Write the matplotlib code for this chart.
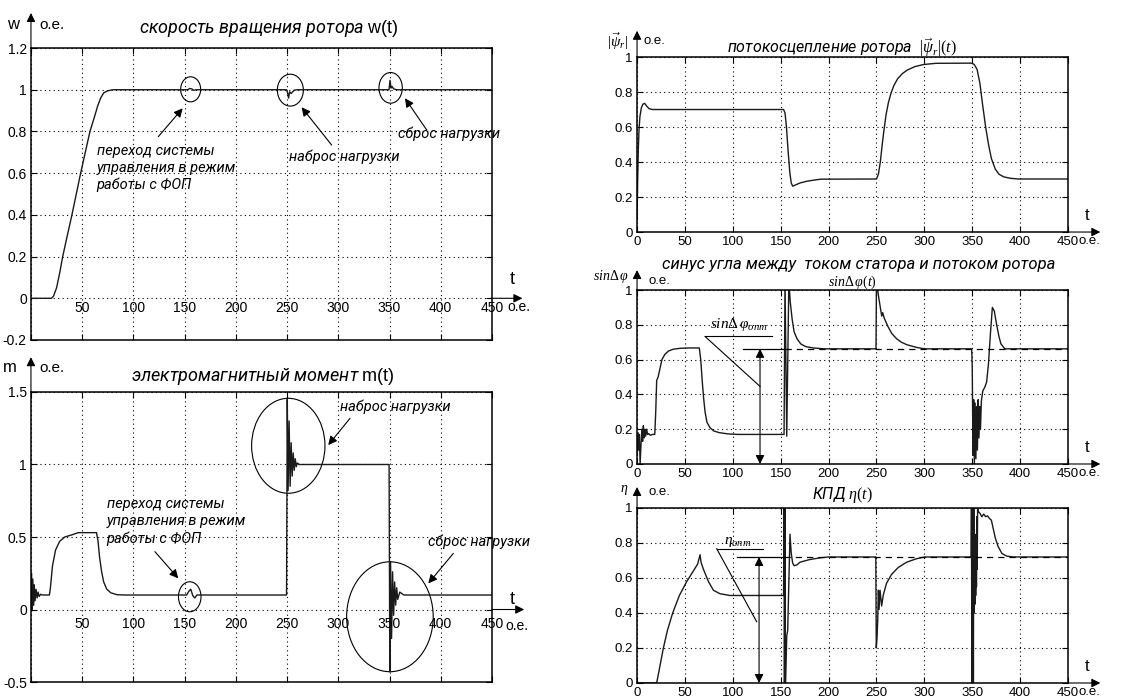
import matplotlib
matplotlib.use('Agg')
import matplotlib.pyplot as plt
from matplotlib.patches import Ellipse

plt.rcParams['font.family'] = ['Liberation Sans', 'DejaVu Sans']
plt.rcParams['mathtext.fontset'] = 'custom'
plt.rcParams['mathtext.rm'] = 'Liberation Serif'
plt.rcParams['mathtext.it'] = 'Liberation Serif:italic'
plt.rcParams['mathtext.bf'] = 'Liberation Serif:bold'
plt.rcParams['mathtext.sf'] = 'Liberation Sans'

IT_FONT = ['Roboto', 'DejaVu Sans']

##---- данные (о.е.)
x_ticks = [0, 50, 100, 150, 200, 250, 300, 350, 400, 450]
x_labels = ['0', '50', '100', '150', '200', '250', '300', '350', '400', '450']

# скорость вращения ротора w(t)
t_w = [0, 20, 22, 25, 28, 31, 35, 40, 48.5, 57.6, 62, 65, 68, 71, 75, 80, 153, 155, 157, 159, 161,
       249.5, 250.5, 251.5, 252.5, 254, 257, 260, 349.5, 350.5, 351.5, 352.5, 354, 357, 450]
w = [0, 0, 0.01, 0.05, 0.12, 0.2, 0.29, 0.4, 0.6, 0.8, 0.87, 0.92, 0.96, 0.985, 0.995, 1.0, 1.0, 1.006, 1.004, 0.997, 1.0,
     1.0, 0.985, 0.96, 0.99, 0.982, 0.998, 1.0, 1.0, 1.045, 1.008, 1.016, 1.004, 1.0, 1.0]
w_yticks = [-0.2, 0, 0.2, 0.4, 0.6, 0.8, 1.0, 1.2]
w_ylabels = ['-0.2', '0', '0.2', '0.4', '0.6', '0.8', '1', '1.2']

# электромагнитный момент m(t)
t_m = [0, 0.5, 1.0, 1.8, 2.5, 3.2, 4.0, 5.0, 6.0, 7.0, 8.0, 9.5, 11, 18, 19, 21, 24, 28, 33, 40,
       46, 64, 65.5, 67, 69, 71, 74, 78, 84, 92, 150, 152, 154, 156, 158, 160, 162,
       249.5, 250.2, 251, 252, 253, 254, 255, 256, 257, 258, 259, 260, 262, 266,
       349.6, 350.3, 351, 352, 353, 354, 355, 356, 357, 358, 360, 364, 450]
m = [0, 0.25, 0.0, 0.21, 0.03, 0.17, 0.06, 0.14, 0.08, 0.12, 0.09, 0.105, 0.1, 0.1, 0.15, 0.3, 0.41, 0.47, 0.5, 0.515,
     0.53, 0.53, 0.47, 0.36, 0.26, 0.19, 0.14, 0.115, 0.102, 0.1, 0.1, 0.1, 0.125, 0.14, 0.095, 0.08, 0.1,
     0.1, 1.45, 0.82, 1.3, 0.85, 1.15, 0.92, 1.08, 0.96, 1.04, 0.985, 1.01, 1.0, 1.0,
     1.0, -0.43, 0.33, -0.2, 0.26, -0.04, 0.19, 0.03, 0.15, 0.07, 0.12, 0.1, 0.1]
m_yticks = [-0.5, 0, 0.5, 1.0, 1.5]
m_ylabels = ['-0.5', '0', '0.5', '1', '1.5']

# потокосцепление ротора |psi_r|(t)
t_psi = [0, 0.5, 1.2, 2, 3, 4.5, 6, 8, 10, 12.5, 16, 153, 154.5, 156, 157.5, 159.5, 161, 162.5, 165, 170,
         177, 185, 192, 250, 252, 254, 256, 258, 260, 262.5, 265, 268, 272, 277, 282, 290, 299, 312, 349, 352,
         355, 358, 361, 364, 367, 370, 374, 378, 383, 390, 398, 450]
psi = [0.07, 0.25, 0.45, 0.58, 0.66, 0.71, 0.73, 0.735, 0.72, 0.705, 0.7, 0.7, 0.68, 0.6, 0.48, 0.34, 0.28, 0.262, 0.268, 0.28,
       0.29, 0.297, 0.302, 0.303, 0.33, 0.4, 0.5, 0.59, 0.67, 0.74, 0.79, 0.835, 0.875, 0.905, 0.925, 0.945, 0.957, 0.964, 0.965, 0.958,
       0.93, 0.85, 0.72, 0.6, 0.5, 0.42, 0.36, 0.33, 0.315, 0.307, 0.303, 0.303]

# синус угла между током статора и потоком ротора
t_s = [0, 0.8, 1.6, 2.4, 3.2, 4.2, 5, 5.8, 6.6, 7.4, 8.2, 9, 10, 11, 12, 14, 16, 18.5, 19.5, 20.5,
       22, 24, 26, 29, 33, 38, 45, 55, 65, 66.5, 68, 69.5, 71, 73, 76, 80, 86, 95, 105, 153.5,
       154.5, 156.3, 158.5, 160, 162, 164, 167, 171, 176, 184, 195, 249.5, 250, 252, 254, 255.5, 256.5, 258, 262, 266,
       271, 276, 282, 292, 300, 349.4, 350, 350.8, 351.5, 352.2, 353, 353.8, 354.6, 355.4, 356.2, 357, 357.8, 358.6, 359.5, 361,
       363, 365, 367, 369, 371, 373, 375.5, 378, 380, 384, 450]
s = [0.05, 0.18, 0.08, 0.17, 0.0, 0.12, 0.2, 0.13, 0.22, 0.15, 0.2, 0.16, 0.2, 0.17, 0.175, 0.165, 0.17, 0.17, 0.3, 0.48,
     0.5, 0.55, 0.6, 0.63, 0.65, 0.66, 0.665, 0.667, 0.667, 0.6, 0.48, 0.38, 0.3, 0.24, 0.21, 0.19, 0.18, 0.173, 0.17, 0.17,
     1.05, 0.16, 1.05, 0.93, 0.83, 0.76, 0.72, 0.69, 0.675, 0.667, 0.662, 0.662, 1.05, 0.97, 0.9, 0.85, 0.87, 0.84, 0.79, 0.75,
     0.72, 0.7, 0.685, 0.67, 0.662, 0.662, 0.55, 0.05, 0.37, 0.0, 0.35, 0.03, 0.33, 0.08, 0.37, 0.15, 0.33, 0.2, 0.36, 0.42,
     0.44, 0.47, 0.58, 0.75, 0.9, 0.88, 0.8, 0.73, 0.69, 0.662, 0.662]
s_opt = 0.662

# КПД eta(t)
t_e = [0, 20.5, 24, 27.5, 31.7, 37.2, 44.2, 51.9, 58.8, 63.3, 65.8, 66.8, 69.3, 74.5, 79.7, 86.6, 97, 153, 153.4, 153.9,
       154.4, 154.9, 156.3, 157.3, 159.7, 161, 162.5, 164, 167, 170, 180, 191, 200, 249.3, 249.8, 250.6, 251.3, 252, 252.7, 253.7,
       255.4, 257, 260.5, 265.7, 272.7, 281.4, 291.8, 300.5, 348.8, 349.2, 349.6, 350, 350.4, 350.8, 351.2, 351.6, 352, 352.4, 352.8, 353.2,
       353.6, 354, 354.4, 354.8, 355.2, 355.6, 356.3, 358, 360, 362, 364, 366, 368, 370, 372, 374, 377, 381, 386, 393, 450]
eta = [0, 0, 0.1, 0.2, 0.3, 0.4, 0.5, 0.58, 0.64, 0.68, 0.733, 0.69, 0.65, 0.58, 0.53, 0.51, 0.5, 0.5, 1.05, -0.05,
       1.05, -0.05, 0.27, 0.3, 0.85, 0.74, 0.685, 0.67, 0.675, 0.69, 0.705, 0.715, 0.72, 0.72, 0.2, 0.26, 0.36, 0.53, 0.42, 0.53,
       0.44, 0.5, 0.57, 0.62, 0.66, 0.69, 0.71, 0.72, 0.72, 1.05, -0.05, 1.05, -0.05, 1.05, 0.0, 1.05, 0.4, 0.83, 0.45, 0.8,
       0.5, 0.85, 0.55, 0.95, 0.65, 1.0, 0.98, 0.97, 0.95, 0.965, 0.95, 0.955, 0.94, 0.93, 0.88, 0.83, 0.78, 0.74, 0.725, 0.72, 0.72]
eta_opt = 0.72
r_yticks = [0, 0.2, 0.4, 0.6, 0.8, 1.0]
r_ylabels = ['0', '0.2', '0.4', '0.6', '0.8', '1']

LC = '#1a1a1a'
ARROW = dict(arrowstyle='-|>', color='k', lw=0.8, mutation_scale=13, shrinkA=0, shrinkB=0)
TXT = dict(fontstyle='italic', family=IT_FONT)


def setup(ax, ylim, yticks, ylabels, fs):
    ax.set_xlim(0, 450)
    ax.set_ylim(*ylim)
    ax.set_xticks(x_ticks)
    ax.set_yticks(yticks)
    ax.set_yticklabels(ylabels)
    ax.grid(True, color='k', linestyle=(0, (1, 3)), linewidth=0.8)
    ax.tick_params(direction='in', top=True, right=True, length=4, width=0.8, labelsize=fs, pad=3)
    for sp in ax.spines.values():
        sp.set_linewidth(1.1)


def y_arrow(ax, top):
    ax.annotate('', xy=(0, top), xytext=(0, 1), xycoords='axes fraction', textcoords='axes fraction',
                arrowprops=ARROW, annotation_clip=False)


fig = plt.figure(figsize=(11.38, 6.97), dpi=100)

##---- 1. скорость вращения ротора
ax1 = fig.add_axes([0.0272, 0.5122, 0.4051, 0.4189])
setup(ax1, (-0.2, 1.2), w_yticks, w_ylabels, 10)
ax1.tick_params(labelbottom=False)
ax1.plot(t_w, w, color=LC, lw=1.0)
for t, lab in zip(x_ticks[1:], x_labels[1:]):
    ax1.text(t, -0.015, lab, ha='center', va='top', fontsize=10)
ax1.text(1.034, -0.04, 'о.е.', transform=ax1.get_yaxis_transform(), ha='left', va='center', fontsize=10)
ax1.annotate('', xy=(1.066, 0), xytext=(1, 0), xycoords=('axes fraction', 'data'),
             textcoords=('axes fraction', 'data'), arrowprops=ARROW, annotation_clip=False)
ax1.text(1.043, 0.09, 't', transform=ax1.get_yaxis_transform(), ha='center', va='center', fontsize=13)
y_arrow(ax1, 1.12)
ax1.text(-0.039, 1.079, 'w', transform=ax1.transAxes, ha='center', va='center', fontsize=12)
ax1.text(0.019, 1.079, 'о.е.', transform=ax1.transAxes, ha='left', va='center', fontsize=11)
ax1.text(0.516, 1.068, 'скорость вращения ротора $\\mathsf{w(t)}$', transform=ax1.transAxes,
         ha='center', va='center', fontsize=13, **TXT)
for cx, cy, ew, eh in [(155.9, 1.002, 19.5, 0.12), (253.2, 0.998, 25.4, 0.153), (351.1, 1.009, 22.8, 0.147)]:
    ax1.add_patch(Ellipse((cx, cy), ew, eh, fill=False, lw=0.8, color='k'))
ax1.text(64, 0.625, 'переход системы\nуправления в режим\nработы с ФОП', ha='left', va='center',
         fontsize=10.5, linespacing=1.25, **TXT)
ax1.text(305.7, 0.679, 'наброс нагрузки', ha='center', va='center', fontsize=10.5, **TXT)
ax1.text(408, 0.791, 'сброс нагрузки', ha='center', va='center', fontsize=10.5, **TXT)
ax1.annotate('', xy=(148.1, 0.911), xytext=(124.3, 0.775), arrowprops=ARROW)
ax1.annotate('', xy=(264.2, 0.916), xytext=(293.5, 0.735), arrowprops=ARROW)
ax1.annotate('', xy=(365.1, 0.959), xytext=(386.3, 0.807), arrowprops=ARROW)

##---- 2. электромагнитный момент
ax2 = fig.add_axes([0.0272, 0.0215, 0.4051, 0.4161])
setup(ax2, (-0.5, 1.5), m_yticks, m_ylabels, 10)
ax2.tick_params(labelbottom=False)
ax2.plot(t_m, m, color=LC, lw=1.0)
for t, lab in zip(x_ticks[1:], x_labels[1:]):
    ax2.text(t, -0.055, lab, ha='center', va='top', fontsize=10)
ax2.text(1.03, -0.115, 'о.е.', transform=ax2.get_yaxis_transform(), ha='left', va='center', fontsize=10)
ax2.annotate('', xy=(1.07, 0), xytext=(1, 0), xycoords=('axes fraction', 'data'),
             textcoords=('axes fraction', 'data'), arrowprops=ARROW, annotation_clip=False)
ax2.text(1.045, 0.07, 't', transform=ax2.get_yaxis_transform(), ha='center', va='center', fontsize=13)
y_arrow(ax2, 1.12)
ax2.text(-0.046, 1.083, 'm', transform=ax2.transAxes, ha='center', va='center', fontsize=12)
ax2.text(0.019, 1.083, 'о.е.', transform=ax2.transAxes, ha='left', va='center', fontsize=11)
ax2.text(0.503, 1.052, 'электромагнитный момент $\\mathsf{m(t)}$', transform=ax2.transAxes,
         ha='center', va='center', fontsize=13, **TXT)
for cx, cy, ew, eh in [(155, 0.088, 22, 0.207), (251.2, 1.129, 71.6, 0.655), (350.4, -0.05, 84.5, 0.758)]:
    ax2.add_patch(Ellipse((cx, cy), ew, eh, fill=False, lw=0.8, color='k'))
ax2.text(74, 0.609, 'переход системы\nуправления в режим\nработы с ФОП', ha='left', va='center',
         fontsize=10.5, linespacing=1.3, **TXT)
ax2.text(355.3, 1.399, 'наброс нагрузки', ha='center', va='center', fontsize=10.5, **TXT)
ax2.text(387.9, 0.468, 'сброс нагрузки', ha='left', va='center', fontsize=10.5, **TXT)
ax2.annotate('', xy=(143.8, 0.215), xytext=(121, 0.399), arrowprops=ARROW)
ax2.annotate('', xy=(290.2, 1.134), xytext=(311.4, 1.318), arrowprops=ARROW)
ax2.annotate('', xy=(387.9, 0.18), xytext=(412.3, 0.387), arrowprops=ARROW)


def right_common(ax):
    setup(ax, (0, 1), r_yticks, r_ylabels, 9.5)
    ax.set_xticklabels(x_labels)
    ax.annotate('', xy=(1.075, 0), xytext=(1, 0), xycoords='axes fraction', textcoords='axes fraction',
                arrowprops=ARROW, annotation_clip=False)
    ax.text(1.044, 0.05, 't', transform=ax.transAxes, ha='center', va='bottom', fontsize=12)
    ax.text(1.024, -0.05, 'о.е.', transform=ax.transAxes, ha='left', va='center', fontsize=9.5)


##---- 3. потокосцепление ротора
ax3 = fig.add_axes([0.5598, 0.6671, 0.3787, 0.2511])
right_common(ax3)
ax3.plot(t_psi, psi, color=LC, lw=1.0)
y_arrow(ax3, 1.15)
ax3.text(-0.046, 1.09, '$|\\vec{\\psi}_r|$', transform=ax3.transAxes, ha='center', va='center', fontsize=11)
ax3.text(0.016, 1.09, 'о.е.', transform=ax3.transAxes, ha='left', va='center', fontsize=9.5)
ax3.text(0.476, 1.057, 'потокосцепление ротора  $|\\vec{\\psi}_r|(t)$', transform=ax3.transAxes,
         ha='center', va='center', fontsize=11.5, **TXT)

##---- 4. синус угла
ax4 = fig.add_axes([0.5598, 0.3343, 0.3787, 0.2496])
right_common(ax4)
ax4.plot(t_s, s, color=LC, lw=1.0)
ax4.plot([111, 155], [s_opt, s_opt], color='k', lw=0.9)
ax4.plot([155, 450], [s_opt, s_opt], color='k', lw=0.9, linestyle=(0, (5, 4)))
ax4.plot([71, 140.6], [0.733, 0.733], color='k', lw=0.8)
ax4.plot([71, 128.4], [0.733, 0.446], color='k', lw=0.8)
ax4.annotate('', xy=(128.4, s_opt), xytext=(128.4, 0.0),
             arrowprops=dict(arrowstyle='<|-|>', color='k', lw=0.8, mutation_scale=13, shrinkA=0, shrinkB=0))
ax4.text(106.8, 0.8, '$sin\\Delta\\,\\varphi_{опт}$', ha='center', va='center', fontsize=11)
y_arrow(ax4, 1.115)
ax4.text(-0.018, 1.075, '$sin\\Delta\\,\\varphi$', transform=ax4.transAxes, ha='right', va='center', fontsize=10)
ax4.text(0.026, 1.05, 'о.е.', transform=ax4.transAxes, ha='left', va='center', fontsize=9.5)
ax4.text(0.515, 1.144, 'синус угла между  током статора и потоком ротора', transform=ax4.transAxes,
         ha='center', va='center', fontsize=12, **TXT)
ax4.text(0.501, 1.046, '$sin\\Delta\\,\\varphi(t)$', transform=ax4.transAxes, ha='center', va='center', fontsize=10)

##---- 5. КПД
ax5 = fig.add_axes([0.5598, 0.0201, 0.3787, 0.2511])
right_common(ax5)
ax5.plot(t_e, eta, color=LC, lw=1.0)
ax5.plot([104, 153], [eta_opt, eta_opt], color='k', lw=0.9)
ax5.plot([153, 450], [eta_opt, eta_opt], color='k', lw=0.9, linestyle=(0, (5, 4)))
ax5.plot([83.2, 131.9], [0.767, 0.767], color='k', lw=0.8)
ax5.plot([83.2, 124.9], [0.767, 0.35], color='k', lw=0.8)
ax5.annotate('', xy=(127.4, eta_opt), xytext=(127.4, 0.0),
             arrowprops=dict(arrowstyle='<|-|>', color='k', lw=0.8, mutation_scale=13, shrinkA=0, shrinkB=0))
ax5.text(104.7, 0.806, '$\\eta_{опт}$', ha='center', va='center', fontsize=11)
y_arrow(ax5, 1.12)
ax5.text(-0.03, 1.103, '$\\eta$', transform=ax5.transAxes, ha='center', va='center', fontsize=10)
ax5.text(0.026, 1.09, 'о.е.', transform=ax5.transAxes, ha='left', va='center', fontsize=9.5)
ax5.text(0.476, 1.074, 'КПД $\\eta(t)$', transform=ax5.transAxes,
         ha='center', va='center', fontsize=11.5, **TXT)

fig.savefig('out.png', dpi=100, facecolor='white')
